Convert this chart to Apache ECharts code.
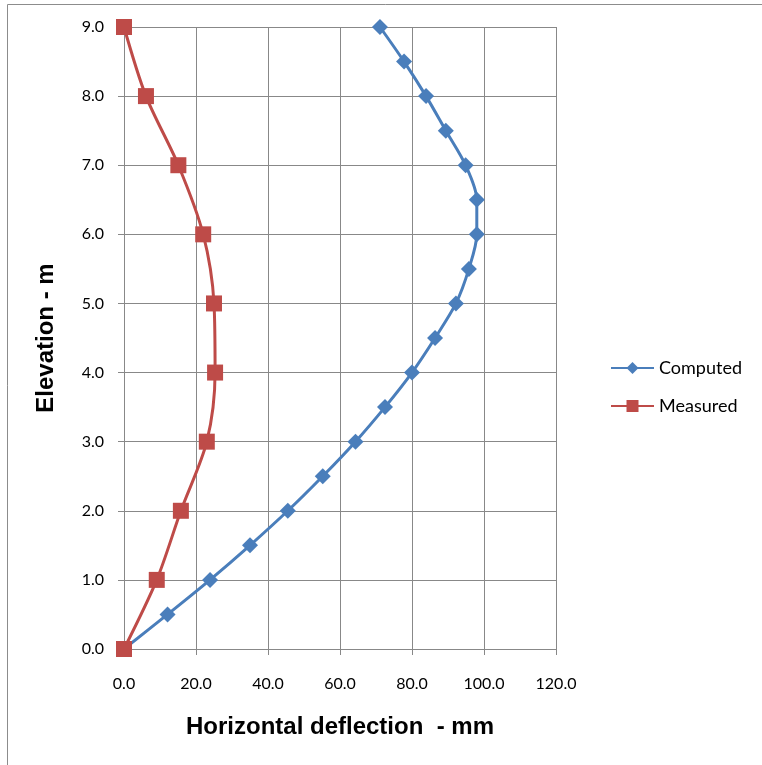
<!DOCTYPE html>
<html>
<head>
<meta charset="utf-8">
<script src="https://cdn.jsdelivr.net/npm/echarts@6/dist/echarts.min.js"></script>
<style>
  html, body { margin: 0; padding: 0; background: #fff; }
  #chart { width: 762px; height: 765px; }
</style>
</head>
<body>
<div id="chart"></div>
<script>
// elevation (m) for each series
const computedElev = [0, 0.5, 1.0, 1.5, 2.0, 2.5, 3.0, 3.5, 4.0, 4.5, 5.0, 5.5, 6.0, 6.5, 7.0, 7.5, 8.0, 8.5, 9.0];
const computedDefl = [0, 12.1, 23.9, 35.0, 45.5, 55.2, 64.3, 72.5, 80.0, 86.4, 92.2, 95.8, 98.0, 98.0, 94.9, 89.4, 83.9, 77.8, 71.1];
const measuredElev = [0, 1, 2, 3, 4, 5, 6, 7, 8, 9];
const measuredDefl = [0, 9.1, 15.8, 23.0, 25.3, 25.0, 22.0, 15.1, 6.1, 0];

const pairs = (xs, ys) => xs.map((x, i) => [x, ys[i]]);

const chart = echarts.init(document.getElementById('chart'));

const gridColor = '#888888';
const labelFont = 'Lato, "Noto Sans", sans-serif';
const titleFont = '"Liberation Sans", Arial, sans-serif';

chart.setOption({
  animation: false,
  graphic: [{
    type: 'rect',
    shape: { x: 7.5, y: 4.5, width: 800, height: 800 },
    style: { fill: 'none', stroke: '#8c8c8c', lineWidth: 1 },
    silent: true
  }],
  grid: { left: 124, top: 27, width: 432, height: 622, containLabel: false },
  legend: {
    orient: 'vertical',
    left: 605,
    top: 354,
    itemWidth: 43,
    itemHeight: 15,
    itemGap: 20,
    textStyle: { fontFamily: labelFont, fontSize: 18, color: '#000' },
    data: ['Computed', 'Measured']
  },
  xAxis: {
    type: 'value',
    min: 0, max: 120, interval: 20,
    name: 'Horizontal deflection  - mm',
    nameLocation: 'middle',
    nameGap: 66,
    nameTextStyle: { fontFamily: titleFont, fontWeight: 'bold', fontSize: 24, color: '#000' },
    axisLine: { show: true, onZero: false, lineStyle: { color: gridColor } },
    axisTick: { show: true, length: 6, lineStyle: { color: gridColor } },
    axisLabel: { fontFamily: labelFont, fontSize: 16, color: '#000', margin: 27, formatter: v => v.toFixed(1) },
    splitLine: { show: true, lineStyle: { color: gridColor, width: 1 } }
  },
  yAxis: {
    type: 'value',
    min: 0, max: 9, interval: 1,
    name: 'Elevation - m',
    nameLocation: 'middle',
    nameGap: 66,
    nameTextStyle: { fontFamily: titleFont, fontWeight: 'bold', fontSize: 24, color: '#000' },
    axisLine: { show: true, onZero: false, lineStyle: { color: gridColor } },
    axisTick: { show: true, length: 6, lineStyle: { color: gridColor } },
    axisLabel: { fontFamily: labelFont, fontSize: 16, color: '#000', margin: 20, formatter: v => v.toFixed(1) },
    splitLine: { show: true, lineStyle: { color: gridColor, width: 1 } }
  },
  series: [
    {
      name: 'Computed',
      type: 'line',
      data: pairs(computedDefl, computedElev),
      smooth: 0.3,
      symbol: 'diamond',
      symbolSize: 16,
      showAllSymbol: true,
      lineStyle: { color: '#4A7EBB', width: 3 },
      itemStyle: { color: '#4A7EBB' }
    },
    {
      name: 'Measured',
      type: 'line',
      data: pairs(measuredDefl, measuredElev),
      smooth: 0.3,
      symbol: 'rect',
      symbolSize: 16,
      showAllSymbol: true,
      lineStyle: { color: '#BE4B48', width: 3 },
      itemStyle: { color: '#BE4B48' }
    }
  ]
});
</script>
</body>
</html>
